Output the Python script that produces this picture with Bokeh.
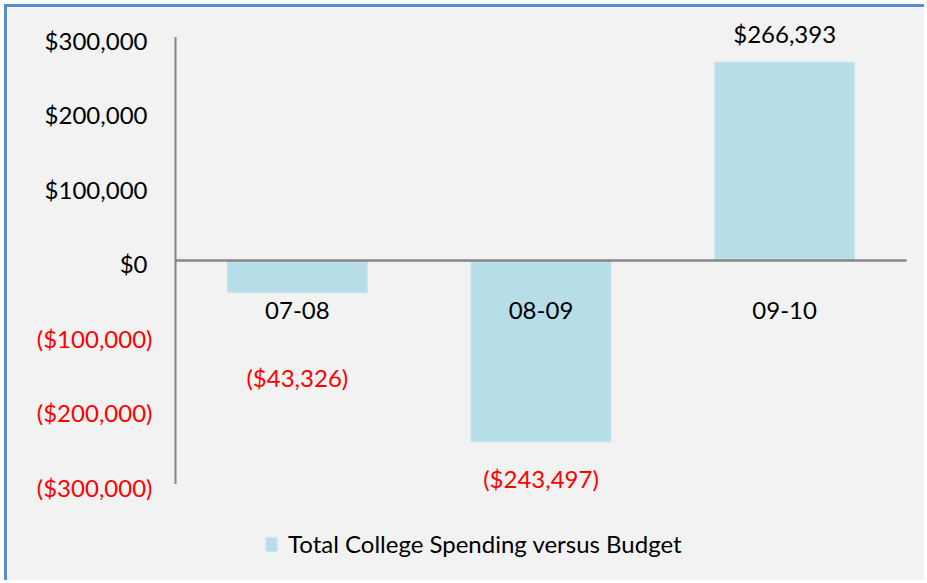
from bokeh.plotting import figure
from bokeh.models import Range1d, ColumnDataSource, Legend, LegendItem
from bokeh.embed import file_html
from bokeh.resources import INLINE
from bokeh.core.properties import value

# ---- data ----
categories = ["07-08", "08-09", "09-10"]
variance = [-43326, -243497, 266393]
series_name = "Total College Spending versus Budget"
pos_ticks = [0, 100000, 200000, 300000]
neg_ticks = [-100000, -200000, -300000]

# ---- layout / style (kept apart from data) ----
label_offsets = [85, 37, -29]     # px offsets of value labels from bar end
FONT = "Lato"
BAR = "#B7DDE8"
BAR_EDGE = "#CDE8EF"
GRAY = "#868686"
RED = "#FF0000"
BG = "#F2F2F2"
BORDER = "#5B8BD0"

W, H = 920, 576               # canvas size (page offset 7,7 after margin+border)
AXIS_X = 168                  # canvas px of the value axis
ZERO_Y = 253                  # canvas px of the zero line
PX_PER_CAT = 731 / 3          # px per category slot
PX_PER_100K = 74.5            # px per 100,000


def money(v):
    s = f"${abs(v):,}"
    return f"({s})" if v < 0 else s


x_start = -AXIS_X / PX_PER_CAT
x_end = (W - AXIS_X) / PX_PER_CAT
y_end = ZERO_Y / PX_PER_100K * 100000
y_start = -(H - ZERO_Y) / PX_PER_100K * 100000

p = figure(width=W, height=H, output_backend="svg", toolbar_location=None,
           x_range=Range1d(x_start, x_end), y_range=Range1d(y_start, y_end),
           x_axis_location=None, y_axis_location=None,
           min_border=0, min_border_left=0, min_border_right=0,
           min_border_top=0, min_border_bottom=0,
           background_fill_color=BG, border_fill_color=BG,
           styles={"margin-left": "4px", "margin-top": "4px",
                   "border-left": f"3px solid {BORDER}",
                   "border-top": f"3px solid {BORDER}"})
p.outline_line_color = None
p.grid.visible = False

n = len(categories)
xpos = [i + 0.5 for i in range(n)]
src = ColumnDataSource(dict(
    x=xpos,
    cat=categories,
    top=variance,
    lab=[money(v) for v in variance],
    col=[RED if v < 0 else "#000000" for v in variance],
    off=label_offsets,
    zero=[0] * n,
))

bars = p.vbar(x="x", top="top", bottom=0, width=0.575, source=src,
              fill_color=BAR, line_color=BAR_EDGE, line_width=1)

# value axis line and zero (category) axis line
p.segment(x0=[0], y0=[min(neg_ticks)], x1=[0], y1=[max(pos_ticks)],
          line_color=GRAY, line_width=2)
p.segment(x0=[0], y0=[0], x1=[n], y1=[0], line_color=GRAY, line_width=2.5)

# category labels under the zero line
p.text(x="x", y="zero", text="cat", source=src, y_offset=50,
       text_align="center", text_baseline="middle",
       text_font=value(FONT), text_font_size="24px", text_color="#000000")

# value labels
p.text(x="x", y="top", text="lab", source=src, y_offset="off",
       text_align="center", text_baseline="middle",
       text_font=value(FONT), text_font_size="24px", text_color="col")

# value axis tick labels: positives black, negatives red
pos_src = ColumnDataSource(dict(x=[0] * len(pos_ticks), y=pos_ticks,
                                t=[money(v) for v in pos_ticks]))
neg_src = ColumnDataSource(dict(x=[0] * len(neg_ticks), y=neg_ticks,
                                t=[money(v) for v in neg_ticks]))
p.text(x="x", y="y", text="t", source=pos_src, x_offset=-28, y_offset=3,
       text_align="right", text_baseline="middle",
       text_font=value(FONT), text_font_size="24px", text_color="#000000")
p.text(x="x", y="y", text="t", source=neg_src, x_offset=-23, y_offset=3,
       text_align="right", text_baseline="middle",
       text_font=value(FONT), text_font_size="24px", text_color=RED)

legend = Legend(items=[LegendItem(label=series_name, renderers=[bars])],
                location=(257, 25), orientation="horizontal",
                border_line_color=None, background_fill_alpha=0,
                padding=0, margin=0, spacing=0,
                glyph_width=14, glyph_height=18, label_standoff=10,
                label_text_font=FONT, label_text_font_size="24px",
                label_text_color="#000000", label_height=20)
p.add_layout(legend)

open("out.html", "w").write(file_html(p, INLINE))
